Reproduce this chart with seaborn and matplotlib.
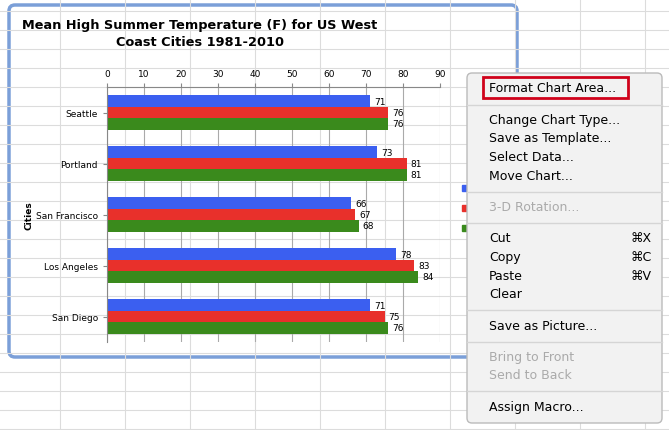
import matplotlib
matplotlib.use('Agg')
import matplotlib.pyplot as plt
import matplotlib.patches as mpatches
import seaborn as sns
import pandas as pd

cities = ['Seattle', 'Portland', 'San Francisco', 'Los Angeles', 'San Diego']
months = ['June', 'July', 'August']
june = [71, 73, 66, 78, 71]
july = [76, 81, 67, 83, 75]
august = [76, 81, 68, 84, 76]
colors = ['#3b5ff0', '#e8302b', '#3a8a1c']

rows = []
for month, vals in zip(months, [june, july, august]):
    for city, v in zip(cities, vals):
        rows.append({'City': city, 'Month': month, 'Temp': v})
df = pd.DataFrame(rows)

W, H = 669, 431
fig = plt.figure(figsize=(W / 100, H / 100), dpi=100)

# background: spreadsheet grid + chart area frame
bg = fig.add_axes([0, 0, 1, 1], zorder=0)
bg.set_xlim(0, W)
bg.set_ylim(H, 0)
bg.axis('off')
for y in range(12, H, 19):
    bg.plot([0, W], [y, y], color='#dcdcdc', lw=0.8)
for x in [60, 125, 190, 255, 320, 385, 450, 515, 580, 645]:
    bg.plot([x, x], [0, H], color='#dcdcdc', lw=0.8)
bg.add_patch(mpatches.FancyBboxPatch((9, 6), 508, 352, boxstyle='round,pad=0,rounding_size=6',
                                     fc='white', ec='#7b9fd8', lw=2.5))
for c, y in zip(colors, [189, 209, 229]):
    bg.add_patch(mpatches.Rectangle((462, y - 3), 7, 6, color=c))

fig.text(200 / W, 1 - 34 / H, 'Mean High Summer Temperature (F) for US West\nCoast Cities 1981-2010',
         ha='center', va='center', fontsize=9.3, fontweight='bold', linespacing=1.35)

# chart
ax = fig.add_axes([107 / W, 1 - 343 / H, 333 / W, 255 / H], zorder=2)
sns.barplot(data=df, y='City', x='Temp', hue='Month', orient='h', palette=colors,
            width=0.67, saturation=1, ax=ax, legend=False)
ax.set_xlim(0, 90)
ax.set_xticks(range(0, 91, 10))
ax.xaxis.tick_top()
ax.tick_params(axis='both', labelsize=6.5, length=3, color='#888888')
ax.grid(axis='x', color='#aaaaaa', lw=0.8)
ax.set_axisbelow(True)
for s in ['right', 'bottom']:
    ax.spines[s].set_visible(False)
ax.spines['top'].set_color('#888888')
ax.spines['left'].set_color('#888888')
ax.set_xlabel('')
ax.set_ylabel('Cities', fontsize=6.5, fontweight='bold', labelpad=2)
for cont in ax.containers:
    ax.bar_label(cont, fontsize=6.5, padding=3)
ax.patch.set_alpha(0)

# context menu overlay
ov = fig.add_axes([0, 0, 1, 1], zorder=3)
ov.set_xlim(0, W)
ov.set_ylim(H, 0)
ov.axis('off')
ov.add_patch(mpatches.FancyBboxPatch((467, 74), 195, 350, boxstyle='round,pad=0,rounding_size=5',
                                     fc='#f2f2f2', ec='#bbbbbb', lw=1))
ov.add_patch(mpatches.Rectangle((483, 78), 145, 21, fc='none', ec='#d0021b', lw=2))
items = [
    ('Format Chart Area...', 88, '', 'black'),
    ('Change Chart Type...', 121, '', 'black'),
    ('Save as Template...', 139, '', 'black'),
    ('Select Data...', 158, '', 'black'),
    ('Move Chart...', 177, '', 'black'),
    ('3-D Rotation...', 208, '', '#aaaaaa'),
    ('Cut', 239, '⌘X', 'black'),
    ('Copy', 258, '⌘C', 'black'),
    ('Paste', 277, '⌘V', 'black'),
    ('Clear', 295, '', 'black'),
    ('Save as Picture...', 327, '', 'black'),
    ('Bring to Front', 358, '', '#aaaaaa'),
    ('Send to Back', 376, '', '#aaaaaa'),
    ('Assign Macro...', 408, '', 'black'),
]
for label, y, key, col in items:
    ov.text(489, y, label, fontsize=9, color=col, va='center')
    if key:
        ov.text(652, y, key, fontsize=9, color=col, va='center', ha='right')
for y in [106, 193, 224, 311, 343, 392]:
    ov.plot([467, 662], [y, y], color='#d5d5d5', lw=1)

fig.savefig('out.png', dpi=100)
